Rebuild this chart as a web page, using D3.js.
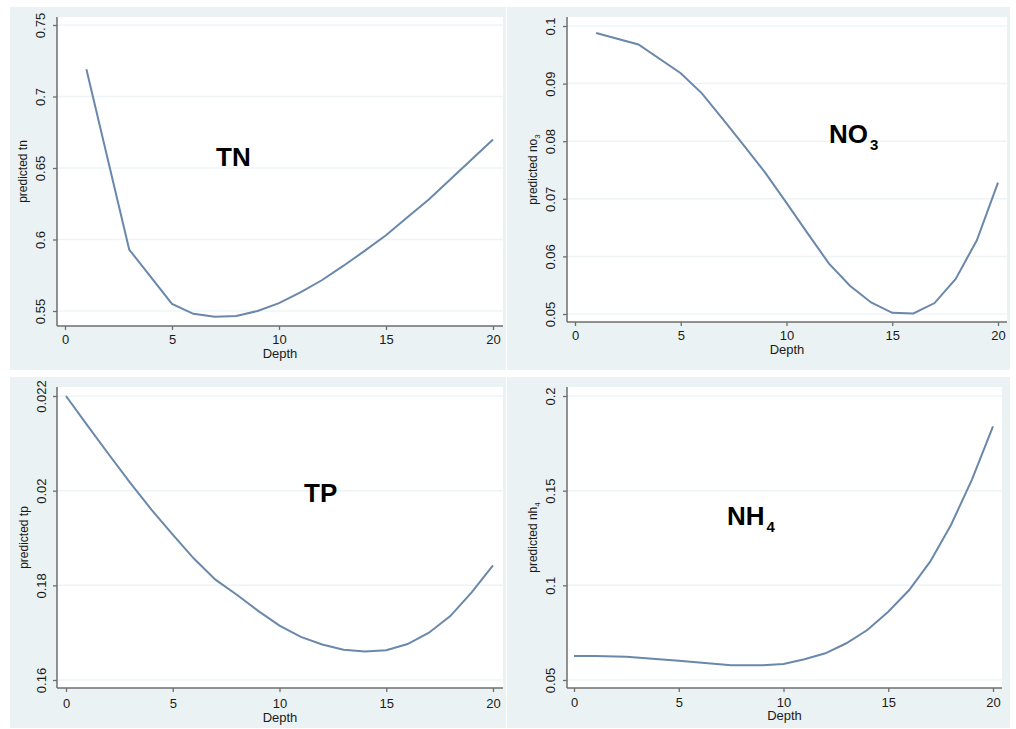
<!DOCTYPE html>
<html>
<head>
<meta charset="utf-8">
<script src="https://cdn.jsdelivr.net/npm/d3@7"></script>
<style>
  body { margin: 0; background: #fff; }
  svg text { font-family: "Liberation Sans", Arial, sans-serif; fill: #1a1a1a; }
  .tick line { stroke: #6e6e6e; stroke-width: 1.3; }
  .big-label { font-weight: bold; font-size: 26px; fill: #000; }
</style>
</head>
<body>
<div id="chart"></div>
<script>

// depth values and fitted predictions
var depthTN = [1, 3, 5, 6, 7, 8, 9, 10, 11, 12, 13, 14, 15, 16, 17, 18, 19, 20];
var valuesTN = [0.719, 0.593, 0.555, 0.548, 0.546, 0.5465, 0.550, 0.5555, 0.5630, 0.5715, 0.5815, 0.5920, 0.6030, 0.6155, 0.6280, 0.6420, 0.6560, 0.6700];

var depthNO3 = [1, 3, 5, 6, 7, 8, 9, 10, 11, 12, 13, 14, 15, 16, 17, 18, 19, 20];
var valuesNO3 = [0.0988, 0.0968, 0.0918, 0.0883, 0.0838, 0.0792, 0.0745, 0.0693, 0.0640, 0.0588, 0.0549, 0.0520, 0.0502, 0.0501, 0.0519, 0.0561, 0.0628, 0.0728];

var depthTP = [0, 1, 2, 3, 4, 5, 6, 7, 8, 9, 10, 11, 12, 13, 14, 15, 16, 17, 18, 19, 20];
var valuesTP = [0.02200, 0.02138, 0.02077, 0.02017, 0.01960, 0.01907, 0.01856, 0.01812, 0.01780, 0.01746, 0.01715, 0.01691, 0.01675, 0.01664, 0.01660, 0.01663, 0.01676, 0.01700, 0.01735, 0.01785, 0.01842];

var depthNH4 = [0, 1, 2.5, 5, 7.5, 9, 10, 11, 12, 13, 14, 15, 16, 17, 18, 19, 20];
var valuesNH4 = [0.0627, 0.0627, 0.0623, 0.0602, 0.0578, 0.0578, 0.0585, 0.0610, 0.0641, 0.0694, 0.0764, 0.0861, 0.0975, 0.1125, 0.1320, 0.1560, 0.1840];

// axis ticks
var depthTicks = [0, 5, 10, 15, 20];
var ticksTN = [0.55, 0.6, 0.65, 0.7, 0.75];
var tickLabelsTN = ["0.55", "0.6", "0.65", "0.7", "0.75"];
var ticksNO3 = [0.05, 0.06, 0.07, 0.08, 0.09, 0.1];
var tickLabelsNO3 = ["0.05", "0.06", "0.07", "0.08", "0.09", "0.1"];
var ticksTP = [0.016, 0.018, 0.020, 0.022];
var tickLabelsTP = ["0.16", "0.18", "0.02", "0.022"];
var ticksNH4 = [0.05, 0.1, 0.15, 0.2];
var tickLabelsNH4 = ["0.05", "0.1", "0.15", "0.2"];

var width = 1016,
    height = 729;

var svg = d3.select('#chart')
  .append('svg')
    .attr('width', width)
    .attr('height', height);

var panels = [
  { depth: depthTN, values: valuesTN, ticks: ticksTN, labels: tickLabelsTN,
    title: ["predicted tn"], name: ["TN"],
    bg: [10, 7, 496, 363], plot: [57, 503, 17, 326],
    xr: [65, 493], yr: [311, 25], labelX: 40, titleX: 23, tickY: 344, depthY: 358,
    nameX: 216, nameY: 166 },
  { depth: depthNO3, values: valuesNO3, ticks: ticksNO3, labels: tickLabelsNO3,
    title: ["predicted no", "3"], name: ["NO", "3"],
    bg: [507, 7, 503, 363], plot: [567, 1007, 17, 322],
    xr: [575, 998], yr: [314, 26], labelX: 550, titleX: 533, tickY: 340, depthY: 354,
    nameX: 829, nameY: 143 },
  { depth: depthTP, values: valuesTP, ticks: ticksTP, labels: tickLabelsTP,
    title: ["predicted tp"], name: ["TP"],
    bg: [10, 377, 496, 351], plot: [57, 503, 387, 688],
    xr: [66, 493], yr: [680, 396], labelX: 41, titleX: 24, tickY: 708, depthY: 722,
    nameX: 304, nameY: 502 },
  { depth: depthNH4, values: valuesNH4, ticks: ticksNH4, labels: tickLabelsNH4,
    title: ["predicted nh", "4"], name: ["NH", "4"],
    bg: [507, 377, 503, 351], plot: [567, 1002, 387, 688],
    xr: [574, 993], yr: [680, 396], labelX: 550, titleX: 533, tickY: 707, depthY: 720,
    nameX: 727, nameY: 525 }
];

panels.forEach(function(p) {
  var g = svg.append('g');

  var x = d3.scaleLinear().domain([0, 20]).range(p.xr);
  var y = d3.scaleLinear()
            .domain([p.ticks[0], p.ticks[p.ticks.length - 1]])
            .range(p.yr);

  // graph region + plot region
  g.append('rect')
    .attr('x', p.bg[0]).attr('y', p.bg[1])
    .attr('width', p.bg[2]).attr('height', p.bg[3])
    .style('fill', '#eaf2f3');

  g.append('rect')
    .attr('x', p.plot[0]).attr('y', p.plot[2])
    .attr('width', p.plot[1] - p.plot[0]).attr('height', p.plot[3] - p.plot[2])
    .style('fill', '#fff');

  // gridlines
  g.selectAll('.grid')
    .data(p.ticks)
    .enter()
    .append('line')
    .attr('class', 'grid')
    .attr('x1', p.plot[0]).attr('x2', p.plot[1])
    .attr('y1', function(d) { return y(d); })
    .attr('y2', function(d) { return y(d); })
    .style('stroke', '#eef4f5')
    .style('stroke-width', 1.5);

  // y axis
  var yAxis = g.append('g')
    .attr('transform', 'translate(' + p.plot[0] + ',0)')
    .call(d3.axisLeft(y)
            .tickValues(p.ticks)
            .tickFormat(function(d, i) { return p.labels[i]; })
            .tickSize(4)
            .tickSizeOuter(0));
  yAxis.select('.domain').remove();
  yAxis.selectAll('.tick text')
    .attr('x', null).attr('dy', '0.35em')
    .attr('text-anchor', 'middle')
    .attr('transform', 'translate(' + (p.labelX - p.plot[0]) + ',0) rotate(-90)')
    .style('font-size', '13px');

  // x axis
  var xAxis = g.append('g')
    .attr('transform', 'translate(0,' + p.plot[3] + ')')
    .call(d3.axisBottom(x)
            .tickValues(depthTicks)
            .tickSize(4)
            .tickSizeOuter(0));
  xAxis.select('.domain').remove();
  xAxis.selectAll('.tick text')
    .attr('y', p.tickY - p.plot[3]).attr('dy', null)
    .style('font-size', '13px');

  // axis lines
  g.append('line')
    .attr('x1', p.plot[0]).attr('x2', p.plot[0])
    .attr('y1', p.plot[2]).attr('y2', p.plot[3])
    .style('stroke', '#6e6e6e').style('stroke-width', 1.5);
  g.append('line')
    .attr('x1', p.plot[0]).attr('x2', p.plot[1])
    .attr('y1', p.plot[3]).attr('y2', p.plot[3])
    .style('stroke', '#6e6e6e').style('stroke-width', 1.5);

  // axis titles
  g.append('text')
    .attr('x', (p.plot[0] + p.plot[1]) / 2)
    .attr('y', p.depthY)
    .attr('text-anchor', 'middle')
    .style('font-size', '13px')
    .text('Depth');

  var t = g.append('text')
    .attr('transform', 'translate(' + p.titleX + ',' + ((p.plot[2] + p.plot[3]) / 2) + ') rotate(-90)')
    .attr('dy', '0.35em')
    .attr('text-anchor', 'middle')
    .style('font-size', '12px');
  t.append('tspan').text(p.title[0]);
  if (p.title[1]) {
    t.append('tspan').attr('dy', '0.3em').style('font-size', '8px').text(p.title[1]);
  }

  // fitted line
  var line = d3.line()
    .x(function(d) { return x(d[0]); })
    .y(function(d) { return y(d[1]); });

  g.append('path')
    .datum(d3.zip(p.depth, p.values))
    .attr('d', line)
    .style('fill', 'none')
    .style('stroke', '#6a88aa')
    .style('stroke-width', 2);

  // big label
  var n = g.append('text')
    .attr('class', 'big-label')
    .attr('x', p.nameX)
    .attr('y', p.nameY);
  n.append('tspan').text(p.name[0]);
  if (p.name[1]) {
    n.append('tspan').attr('dx', 2).attr('dy', 7).style('font-size', '15px').text(p.name[1]);
  }
});

</script>
</body>
</html>
